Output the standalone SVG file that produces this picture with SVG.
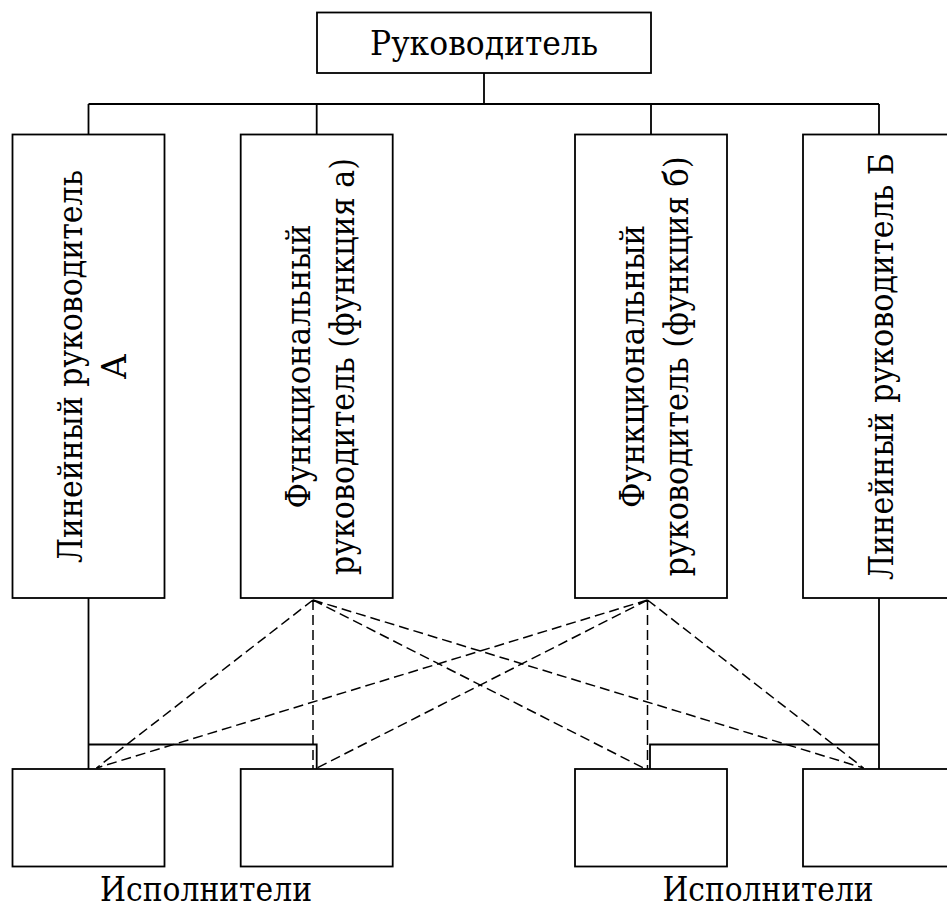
<svg xmlns="http://www.w3.org/2000/svg" width="947" height="908" viewBox="0 0 947 908">
  <style>
    .box { fill: #ffffff; stroke: #000000; stroke-width: 1.8; }
    .solid { fill: none; stroke: #000000; stroke-width: 1.8; }
    .dash { fill: none; stroke: #000000; stroke-width: 1.5; stroke-dasharray: 10 5; }
    .lbl { font-family: "DejaVu Serif", "Liberation Serif", serif; font-size: 34px; fill: #000000; text-anchor: middle; }
  </style>

  <rect width="947" height="908" fill="#ffffff"/>

  <!-- solid hierarchy links -->
  <g id="connectors">
    <path class="solid" d="M484 73 V104 M88.5 104 H879 M88.5 104 V135 M316.7 104 V135 M651 104 V135 M879 104 V135"/>
    <path class="solid" d="M88.5 598 V769 M88.5 744.5 H316.7 V769"/>
    <path class="solid" d="M879 598 V769 M879 744.5 H650 V769"/>
    <!-- functional links (dashed) -->
    <path class="dash" d="M313 600 L96.5 768 M313 600 L313 770 M313 600 L647.5 770 M313 600 L863.5 768"/>
    <path class="dash" d="M647.5 600 L96.5 768 M647.5 600 L313 770 M647.5 600 L647.5 770 M647.5 600 L863.5 768"/>
  </g>

  <g id="head">
    <rect class="box" x="317" y="12.5" width="334" height="60.5"/>
    <text class="lbl" x="484" y="55" textLength="228" lengthAdjust="spacingAndGlyphs">Руководитель</text>
  </g>

  <g id="line-a">
    <rect class="box" x="12.5" y="134.5" width="152" height="463.5"/>
    <g transform="translate(88.5,366.5) rotate(-90)">
      <text class="lbl" x="0" y="-7" textLength="393" lengthAdjust="spacingAndGlyphs">Линейный руководитель</text>
      <text class="lbl" x="0" y="37">А</text>
    </g>
  </g>

  <g id="func-a">
    <rect class="box" x="240.7" y="134.5" width="152" height="463.5"/>
    <g transform="translate(316.7,366.5) rotate(-90)">
      <text class="lbl" x="0" y="-7" textLength="284" lengthAdjust="spacingAndGlyphs">Функциональный</text>
      <text class="lbl" x="0" y="37" textLength="417" lengthAdjust="spacingAndGlyphs">руководитель (функция а)</text>
    </g>
  </g>

  <g id="func-b">
    <rect class="box" x="575" y="134.5" width="152" height="463.5"/>
    <g transform="translate(651,366.5) rotate(-90)">
      <text class="lbl" x="0" y="-7" textLength="283" lengthAdjust="spacingAndGlyphs">Функциональный</text>
      <text class="lbl" x="0" y="37" textLength="420" lengthAdjust="spacingAndGlyphs">руководитель (функция б)</text>
    </g>
  </g>

  <g id="line-b">
    <rect class="box" x="803" y="134.5" width="152" height="463.5"/>
    <g transform="translate(879,366.5) rotate(-90)">
      <text class="lbl" x="0" y="14" textLength="427" lengthAdjust="spacingAndGlyphs">Линейный руководитель Б</text>
    </g>
  </g>

  <g id="exec-1">
    <rect class="box" x="12.5" y="769" width="152" height="97.5"/>
  </g>
  <g id="exec-2">
    <rect class="box" x="240.7" y="769" width="152" height="97.5"/>
  </g>
  <g id="exec-3">
    <rect class="box" x="575" y="769" width="152" height="97.5"/>
  </g>
  <g id="exec-4">
    <rect class="box" x="803" y="769" width="152" height="97.5"/>
  </g>

  <g id="exec-labels">
    <text class="lbl" x="206" y="901" textLength="212" lengthAdjust="spacingAndGlyphs">Исполнители</text>
    <text class="lbl" x="768" y="901" textLength="211" lengthAdjust="spacingAndGlyphs">Исполнители</text>
  </g>
</svg>
